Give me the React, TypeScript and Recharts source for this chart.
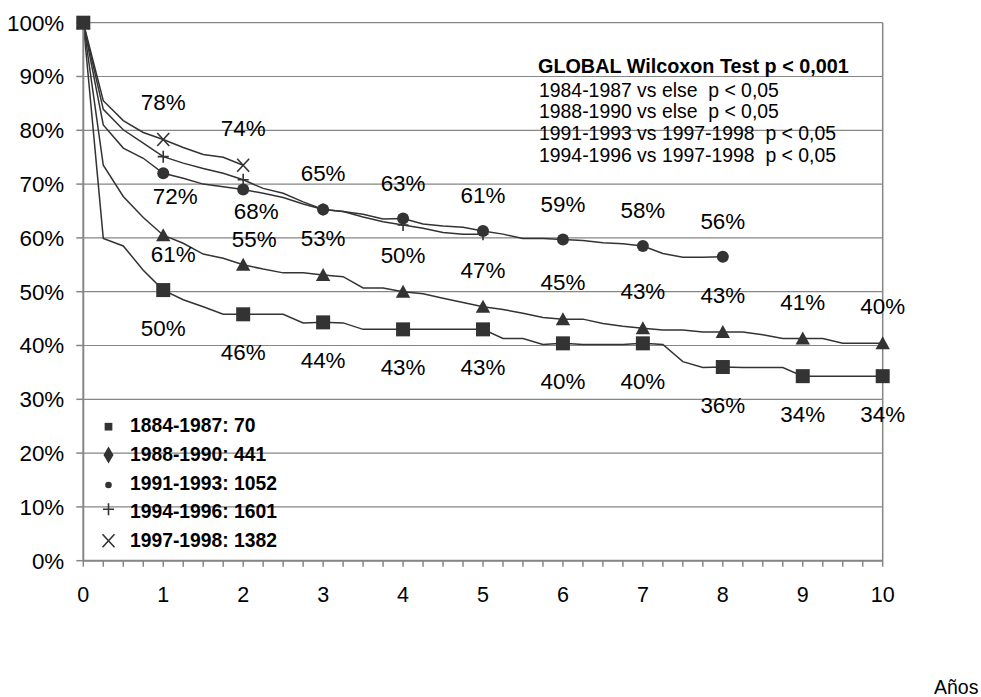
import React from 'react';
import { LineChart, Line, XAxis, YAxis, CartesianGrid, ReferenceLine } from 'recharts';

// time axis (years), sampled every quarter year
const years = [
  0, 0.25, 0.5, 0.75, 1, 1.25, 1.5, 1.75, 2, 2.25, 2.5, 2.75, 3, 3.25, 3.5, 3.75, 4, 4.25, 4.5, 4.75,
  5, 5.25, 5.5, 5.75, 6, 6.25, 6.5, 6.75, 7, 7.25, 7.5, 7.75, 8, 8.25, 8.5, 8.75, 9, 9.25, 9.5, 9.75, 10,
];
const yTicks = [0, 10, 20, 30, 40, 50, 60, 70, 80, 90, 100];

// survival (%) per period
const p1984 = [
  100, 59.9, 58.5, 54.0, 50.3, 48.5, 47.2, 45.8, 45.8, 45.8, 45.8, 44.2, 44.3, 44.2, 43.0, 43.0, 43.0, 43.0, 43.0, 43.0,
  43.0, 41.3, 41.3, 40.2, 40.4, 40.2, 40.2, 40.2, 40.4, 40.2, 37.0, 35.9, 36.0, 35.9, 35.9, 35.9, 34.3, 34.3, 34.3, 34.3, 34.3,
];
const p1988 = [
  100, 73.5, 67.7, 63.8, 60.5, 59.0, 57.0, 56.2, 55.0, 54.2, 53.5, 53.5, 53.1, 52.8, 50.7, 50.7, 50.0, 49.6, 48.8, 48.0,
  47.2, 46.7, 46.0, 45.2, 44.9, 44.9, 44.1, 43.6, 43.2, 42.9, 42.9, 42.5, 42.5, 42.5, 42.0, 41.3, 41.3, 41.3, 40.4, 40.4, 40.4,
];
const p1991 = [
  100, 81.0, 76.7, 74.8, 72.0, 71.1, 70.0, 69.5, 69.0, 68.3, 67.5, 66.3, 65.3, 64.9, 64.4, 63.5, 63.6, 62.6, 62.2, 62.0,
  61.3, 60.7, 59.9, 59.9, 59.7, 59.5, 59.1, 58.9, 58.5, 57.1, 56.4, 56.4, 56.5,
];
const p1994 = [
  100, 83.9, 80.1, 77.6, 75.1, 73.9, 72.9, 72.0, 70.8, 69.2, 68.3, 66.7, 65.3, 64.9, 63.9, 63.0, 62.4, 61.8, 61.0, 60.7,
  60.7,
];
const p1997 = [100, 85.5, 81.8, 79.6, 78.3, 76.8, 75.5, 75.0, 73.5];

// value labels at whole years
const labels1984 = ['', '50%', '46%', '44%', '43%', '43%', '40%', '40%', '36%', '34%', '34%'];
const labels1988 = ['', '61%', '55%', '53%', '50%', '47%', '45%', '43%', '43%', '41%', '40%'];
const labels1991 = ['', '72%', '68%', '65%', '63%', '61%', '59%', '58%', '56%'];
const labels1997 = ['', '78%', '74%'];

const legendNames = ['1884-1987: 70', '1988-1990: 441', '1991-1993: 1052', '1994-1996: 1601', '1997-1998: 1382'];
const testLines = [
  '1984-1987 vs else  p < 0,05',
  '1988-1990 vs else  p < 0,05',
  '1991-1993 vs 1997-1998  p < 0,05',
  '1994-1996 vs 1997-1998  p < 0,05',
];

const data = years.map((t, i) => ({
  t,
  p1984: p1984[i] ?? null,
  p1988: p1988[i] ?? null,
  p1991: p1991[i] ?? null,
  p1994: p1994[i] ?? null,
  p1997: p1997[i] ?? null,
}));

const ink = '#333333';
const grid = '#868686';
const font = '"Liberation Sans", Arial, sans-serif';
const labelSize = 22.4;

type Shape = 'square' | 'triangle' | 'circle' | 'plus' | 'cross' | 'diamond';

const Marker = ({ shape, cx, cy, s = 1 }: { shape: Shape; cx: number; cy: number; s?: number }) => {
  switch (shape) {
    case 'square':
      return <rect x={cx - 7 * s} y={cy - 7 * s} width={14 * s} height={14 * s} fill={ink} />;
    case 'triangle':
      return <path d={`M${cx},${cy - 7} L${cx + 7.2},${cy + 6} L${cx - 7.2},${cy + 6} Z`} fill={ink} />;
    case 'diamond':
      return <path d={`M${cx},${cy - 8.5} L${cx + 5},${cy} L${cx},${cy + 8.5} L${cx - 5},${cy} Z`} fill={ink} />;
    case 'circle':
      return <circle cx={cx} cy={cy} r={6 * s} fill={ink} />;
    case 'plus':
      return (
        <path d={`M${cx - 5.5},${cy} H${cx + 5.5} M${cx},${cy - 6} V${cy + 6}`} stroke={ink} strokeWidth={1.6} fill="none" />
      );
    case 'cross':
      return (
        <path
          d={`M${cx - 6},${cy - 6.5} L${cx + 6},${cy + 6.5} M${cx + 6},${cy - 6.5} L${cx - 6},${cy + 6.5}`}
          stroke={ink}
          strokeWidth={1.6}
          fill="none"
        />
      );
  }
  return null;
};

type Place = { dx: number; dy: number };
const above: Place = { dx: 0, dy: -37 };
const below: Place = { dx: 0, dy: 38 };

// label placement tweaks where the curves crowd together
const placeFor = (key: string, t: number): Place => {
  if (key === 'p1984') return below;
  if (key === 'p1988') {
    if (t === 1) return { dx: 10, dy: 19 };
    if (t === 2) return { dx: 11, dy: -26 };
    return above;
  }
  if (key === 'p1991') {
    if (t === 1) return { dx: 12, dy: 23 };
    if (t === 2) return { dx: 13, dy: 22 };
    return { dx: 0, dy: -36 };
  }
  return above;
};

const makeDot = (key: string, shape: Shape, labels: string[]) => (props: any) => {
  const { cx, cy, index, payload, value } = props;
  if (cx == null || cy == null || value == null || !Number.isInteger(payload.t)) {
    return <g key={`${key}-${index}`} />;
  }
  const label = labels[payload.t];
  const p = placeFor(key, payload.t);
  return (
    <g key={`${key}-${index}`}>
      <Marker shape={shape} cx={cx} cy={cy} />
      {label ? (
        <text
          x={cx + p.dx}
          y={cy + p.dy + labelSize * 0.358}
          textAnchor="middle"
          fontSize={labelSize}
          fontFamily={font}
          fill="#000"
        >
          {label}
        </text>
      ) : null}
    </g>
  );
};

const legendShapes: Shape[] = ['square', 'diamond', 'circle', 'plus', 'cross'];

const App = () => {
  return (
    <div style={{ position: 'absolute', left: 0, top: 0, width: 981, height: 697, background: '#fff', fontFamily: font }}>
      <LineChart width={981} height={697} data={data} margin={{ top: 22.7, right: 98.3, bottom: 106.3, left: 0 }}>
        <CartesianGrid vertical={false} stroke={grid} strokeWidth={1.2} />
        <XAxis
          dataKey="t"
          type="category"
          interval={0}
          height={30}
          tickFormatter={(v: number) => (Number.isInteger(v) ? String(v) : '')}
          axisLine={{ stroke: grid, strokeWidth: 2 }}
          tickLine={{ stroke: grid, strokeWidth: 1.5 }}
          tickSize={6}
          tickMargin={20}
          tick={{ fill: '#000', fontSize: 21.5, fontFamily: font }}
        />
        <YAxis
          type="number"
          domain={[0, 100]}
          ticks={yTicks}
          width={83.3}
          tickFormatter={(v: number) => `${v}%`}
          axisLine={{ stroke: grid, strokeWidth: 2 }}
          tickLine={{ stroke: grid, strokeWidth: 1.5 }}
          tickSize={7}
          tickMargin={12}
          tick={{ fill: '#000', fontSize: labelSize, fontFamily: font }}
        />
        <ReferenceLine x={10} stroke={grid} strokeWidth={1.5} />
        <Line type="linear" dataKey="p1997" stroke={ink} strokeWidth={1.5} dot={makeDot('p1997', 'cross', labels1997)} activeDot={false} isAnimationActive={false} />
        <Line type="linear" dataKey="p1994" stroke={ink} strokeWidth={1.5} dot={makeDot('p1994', 'plus', [])} activeDot={false} isAnimationActive={false} />
        <Line type="linear" dataKey="p1991" stroke={ink} strokeWidth={1.5} dot={makeDot('p1991', 'circle', labels1991)} activeDot={false} isAnimationActive={false} />
        <Line type="linear" dataKey="p1988" stroke={ink} strokeWidth={1.5} dot={makeDot('p1988', 'triangle', labels1988)} activeDot={false} isAnimationActive={false} />
        <Line type="linear" dataKey="p1984" stroke={ink} strokeWidth={1.5} dot={makeDot('p1984', 'square', labels1984)} activeDot={false} isAnimationActive={false} />
      </LineChart>
      <svg width={981} height={697} style={{ position: 'absolute', left: 0, top: 0, pointerEvents: 'none' }}>
        {legendNames.map((name, i) => {
          const base = 432.3 + i * 28.6;
          const my = [426.7, 455, 485, 509.3, 540.7][i];
          return (
            <g key={name}>
              <Marker shape={legendShapes[i]} cx={108.5} cy={my} s={i === 0 || i === 2 ? 0.55 : 1} />
              <text x={130} y={base} fontSize={19.3} fontWeight="bold" fontFamily={font} fill="#000">
                {name}
              </text>
            </g>
          );
        })}
        <text x={538} y={73.3} fontSize={19.8} fontWeight="bold" fontFamily={font} fill="#000">
          GLOBAL Wilcoxon Test p &lt; 0,001
        </text>
        {testLines.map((line, i) => (
          <text key={line} x={539} y={96.7 + i * 21.6} fontSize={19.4} fontFamily={font} fill="#000" style={{ whiteSpace: 'pre' }}>
            {line}
          </text>
        ))}
        <text x={934} y={694} fontSize={19.5} fontFamily={font} fill="#000">
          Años
        </text>
      </svg>
    </div>
  );
};

export default App;
